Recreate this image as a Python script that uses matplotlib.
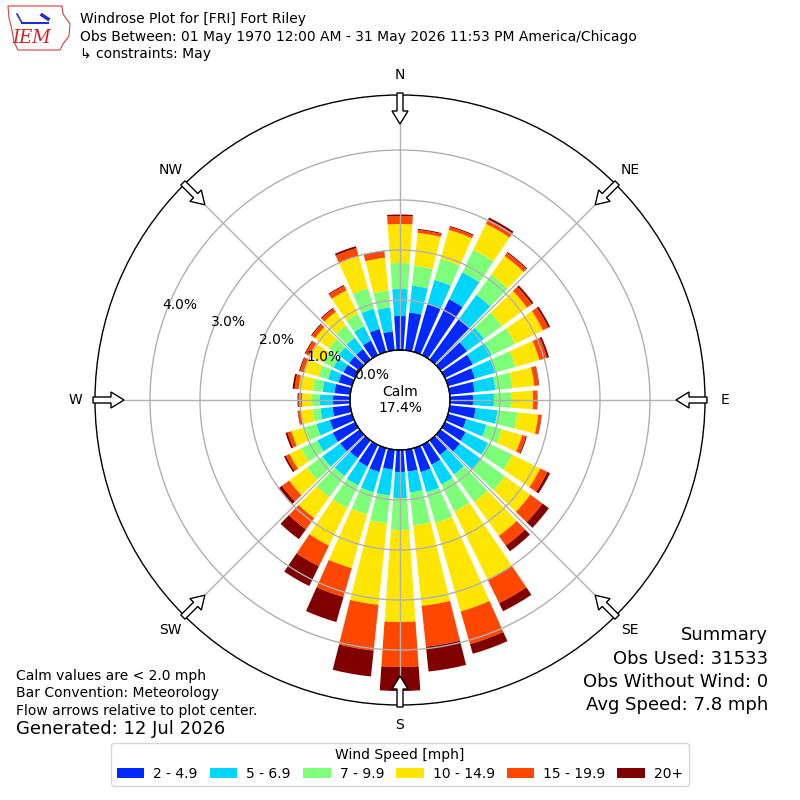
import numpy as np
import matplotlib
matplotlib.use("Agg")
import matplotlib.pyplot as plt
from matplotlib.patches import Patch, FancyArrow, Polygon
from matplotlib.lines import Line2D

# ---------------- data ----------------
directions = np.arange(0, 360, 10)  # degrees, meteorological convention
speed_bins = ["2 - 4.9", "5 - 6.9", "7 - 9.9", "10 - 14.9", "15 - 19.9", "20+"]

# frequency [%] per direction, per speed bin
b_2_5 = [0.68, 0.76, 1.00, 1.24, 1.00, 0.66, 0.62, 0.56, 0.50, 0.46, 0.52, 0.38,
         0.46, 0.48, 0.36, 0.44, 0.50, 0.44, 0.44, 0.40, 0.50, 0.48, 0.44, 0.48,
         0.50, 0.46, 0.36, 0.34, 0.32, 0.28, 0.26, 0.26, 0.26, 0.32, 0.48, 0.38]
b_5_7 = [0.54, 0.54, 0.50, 0.60, 0.60, 0.42, 0.42, 0.42, 0.42, 0.42, 0.44, 0.42,
         0.50, 0.52, 0.48, 0.44, 0.42, 0.42, 0.52, 0.52, 0.42, 0.42, 0.44, 0.44,
         0.34, 0.28, 0.24, 0.26, 0.24, 0.22, 0.22, 0.26, 0.28, 0.32, 0.42, 0.48]
b_7_10 = [0.52, 0.40, 0.44, 0.50, 0.50, 0.44, 0.52, 0.42, 0.34, 0.34, 0.40, 0.32,
          0.54, 0.60, 0.68, 0.60, 0.64, 0.66, 0.64, 0.56, 0.46, 0.50, 0.52, 0.38,
          0.36, 0.24, 0.16, 0.16, 0.20, 0.20, 0.22, 0.24, 0.30, 0.28, 0.42, 0.34]
b_10_15 = [0.78, 0.66, 0.60, 0.58, 0.46, 0.62, 0.62, 0.50, 0.44, 0.44, 0.42, 0.42,
           0.62, 0.62, 0.84, 1.52, 1.84, 1.62, 1.84, 1.64, 1.12, 0.84, 0.52, 0.44,
           0.26, 0.28, 0.24, 0.20, 0.28, 0.30, 0.32, 0.34, 0.34, 0.52, 0.68, 0.66]
b_15_20 = [0.16, 0.06, 0.06, 0.10, 0.08, 0.12, 0.12, 0.16, 0.09, 0.08, 0.06, 0.08,
           0.16, 0.30, 0.24, 0.52, 0.68, 0.82, 0.90, 0.92, 0.60, 0.46, 0.28, 0.18,
           0.08, 0.08, 0.05, 0.07, 0.08, 0.08, 0.08, 0.08, 0.08, 0.10, 0.16, 0.12]
b_20p = [0.03, 0.02, 0.02, 0.04, 0.02, 0.04, 0.04, 0.04, 0.01, 0.01, 0.01, 0.02,
         0.06, 0.16, 0.14, 0.18, 0.20, 0.50, 0.48, 0.52, 0.52, 0.44, 0.24, 0.08,
         0.04, 0.04, 0.01, 0.02, 0.04, 0.02, 0.02, 0.02, 0.02, 0.02, 0.04, 0.02]

ring_values = [0, 1, 2, 3, 4]
ring_labels = ["0.0%", "1.0%", "2.0%", "3.0%", "4.0%"]
compass_angles = [0, 45, 90, 135, 180, 225, 270, 315]
compass_labels = ["N", "NE", "E", "SE", "S", "SW", "W", "NW"]
calm_pct = 17.4

title_lines = ["Windrose Plot for [FRI] Fort Riley",
               "Obs Between: 01 May 1970 12:00 AM - 31 May 2026 11:53 PM America/Chicago",
               "\u21b3 constraints: May"]
left_notes = ["Calm values are < 2.0 mph", "Bar Convention: Meteorology",
              "Flow arrows relative to plot center."]
generated = "Generated: 12 Jul 2026"
summary = ["Summary", "Obs Used: 31533", "Obs Without Wind: 0", "Avg Speed: 7.8 mph"]

# ---------------- figure ----------------
W = H = 800
fig = plt.figure(figsize=(8, 8), dpi=100)
R_OUT = 305.0  # px
ax = fig.add_axes([(400 - R_OUT) / W, (400 - R_OUT) / H, 2 * R_OUT / W, 2 * R_OUT / H],
                  projection="polar")
ax.set_theta_zero_location("N")
ax.set_theta_direction(-1)
ax.set_rorigin(-1.0)
ax.set_ylim(0, 5.1)
px_per_unit = R_OUT / (5.1 + 1.0)

colors = plt.cm.jet(np.linspace(0, 1, 7)[1:])
series = [b_2_5, b_5_7, b_7_10, b_10_15, b_15_20, b_20p]
theta = np.deg2rad(directions)
bottom = np.zeros(len(directions))
for vals, c in zip(series, colors):
    vals = np.asarray(vals)
    ax.bar(theta, vals, width=np.deg2rad(8), bottom=bottom, color=c,
           edgecolor="none", linewidth=0, zorder=1)
    bottom = bottom + vals

# grid
ax.set_axisbelow(False)
ax.set_rgrids([1, 2, 3, 4])
ax.set_yticklabels([])
ax.set_thetagrids(compass_angles)
ax.set_xticklabels([])
ax.grid(True, color="#b0b0b0", linewidth=1.0)
ax.spines["polar"].set_color("black")
ax.spines["polar"].set_linewidth(1.0)
try:
    ax.spines["inner"].set_visible(False)
except KeyError:
    pass
tt = np.linspace(0, 2 * np.pi, 361)
ax.plot(tt, np.zeros_like(tt), color="black", lw=1.0, zorder=5, clip_on=False)

# calm text
ax.text(0.5, 0.5, "Calm\n%.1f%%" % calm_pct, transform=ax.transAxes, ha="center",
        va="center", fontsize=10, linespacing=1.2, zorder=6)


def polar_from_px(dx, dy_up):
    """pixel offset from centre -> (theta, r) data coords"""
    R = np.hypot(dx, dy_up)
    th = np.arctan2(dx, dy_up)
    return th, R / px_per_unit - 1.0


# ring labels
for v, lab in zip(ring_values, ring_labels):
    th, r = polar_from_px(-28 - 48 * v, 25 + 17.5 * v)
    ax.text(th, r, lab, ha="center", va="center", fontsize=10, zorder=6)

# compass labels
for a, lab in zip(compass_angles, compass_labels):
    ax.text(np.deg2rad(a), 325 / px_per_unit - 1.0, lab, ha="center", va="center",
            fontsize=10, clip_on=False)

# flow arrows (hollow, pointing to centre)
for a in compass_angles:
    s, c = np.sin(np.deg2rad(a)), np.cos(np.deg2rad(a))
    x0 = 0.5 + 307 / W * s
    y0 = 0.5 + 307 / H * c
    arr = FancyArrow(x0, y0, -31 / W * s, -31 / H * c, width=6 / W, head_width=16 / W,
                     head_length=13 / W, length_includes_head=True, fc="white",
                     ec="black", lw=1.0, transform=fig.transFigure, zorder=10)
    fig.add_artist(arr)

# titles
for i, line in enumerate(title_lines):
    fig.text(80 / W, 1 - (19 + 17.5 * i) / H, line, fontsize=10, va="center", ha="left")

# logo (simple)
logo = Polygon([[8, 6], [62, 6], [63, 14], [70, 24], [69, 36], [63, 44], [60, 50],
                [18, 50], [14, 42], [12, 30], [9, 18]],
               closed=True, fill=False, ec="#d04040", lw=0.8,
               transform=fig.transFigure)
logo.set_xy(np.array(logo.get_xy()) / [W, -H] + [0, 1])
fig.add_artist(logo)
fig.add_artist(Line2D([22 / W, 48 / W], [1 - 23 / H, 1 - 23 / H], color="#2030c0",
                      lw=1.5, transform=fig.transFigure))
fig.add_artist(Line2D([17 / W, 22 / W], [1 - 14 / H, 1 - 23 / H], color="#2030c0",
                      lw=1.2, transform=fig.transFigure))
fig.add_artist(Line2D([42 / W, 48 / W], [1 - 15 / H, 1 - 19 / H], color="#2030c0",
                      lw=2.5, transform=fig.transFigure))
fig.text(32 / W, 1 - 38 / H, "IEM", color="#d02020", fontsize=13, style="italic",
         family="DejaVu Serif", ha="center", va="center")

# notes
for i, line in enumerate(left_notes):
    fig.text(16 / W, 1 - (676 + 17.5 * i) / H, line, fontsize=10, va="center", ha="left")
fig.text(16 / W, 1 - 729 / H, generated, fontsize=13, va="center", ha="left")
for i, line in enumerate(summary):
    fig.text(768 / W, 1 - (635 + 23.5 * i) / H, line, fontsize=13, va="center", ha="right")

# legend
handles = [Patch(facecolor=c, edgecolor="none", label=l) for c, l in zip(colors, speed_bins)]
fig.legend(handles=handles, ncol=6, loc="center", bbox_to_anchor=(0.5, 1 - 764.5 / H),
           title="Wind Speed [mph]", fontsize=10, title_fontsize=10,
           handlelength=2.0, handleheight=0.7, columnspacing=0.85, handletextpad=0.65,
           borderpad=0.4, labelspacing=0.3)

fig.savefig("out.png", dpi=100)
